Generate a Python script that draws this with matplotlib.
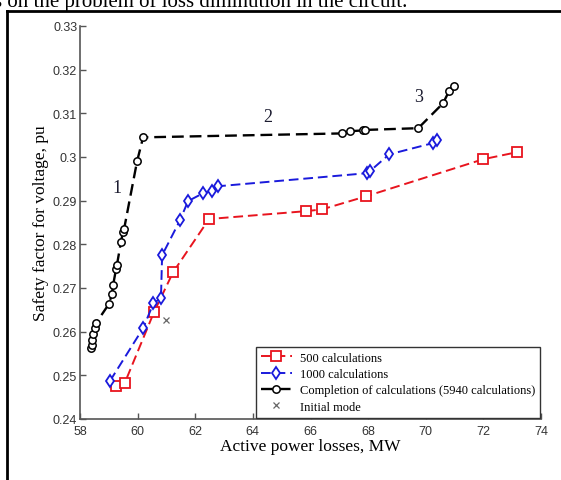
import matplotlib.pyplot as plt
from matplotlib.lines import Line2D
from matplotlib.ticker import FuncFormatter

# 500 calculations
red_x = [59.25, 59.55, 60.57, 61.23, 62.48, 65.85, 66.40, 67.93, 72.00, 73.17]
red_y = [0.2476, 0.2482, 0.2645, 0.2736, 0.2858, 0.2876, 0.2880, 0.2910, 0.2995, 0.3011]

# 1000 calculations
blue_x = [59.04, 60.19, 60.55, 60.81, 60.85, 61.47, 61.75, 62.27, 62.58, 62.79,
          67.97, 68.07, 68.73, 70.26, 70.40]
blue_y = [0.2487, 0.2608, 0.2665, 0.2677, 0.2775, 0.2855, 0.2899, 0.2917, 0.2922, 0.2933,
          0.2963, 0.2968, 0.3006, 0.3032, 0.3038]

# completion of calculations (5940)
black_x = [58.38, 58.40, 58.42, 58.45, 58.52, 58.56, 59.00, 59.11, 59.15, 59.25,
           59.28, 59.42, 59.49, 59.53, 59.98, 60.19, 67.10, 67.38, 67.83, 67.90,
           69.74, 70.60, 70.81, 70.99]
black_y = [0.2562, 0.2570, 0.2580, 0.2595, 0.2608, 0.2620, 0.2663, 0.2686, 0.2707, 0.2743,
           0.2752, 0.2805, 0.2828, 0.2835, 0.2990, 0.3045, 0.3054, 0.3059, 0.3061, 0.3062,
           0.3066, 0.3123, 0.3151, 0.3162]

initial_x = [60.98]
initial_y = [0.2627]

stage_labels = ['1', '2', '3']
stage_x = [59.3, 64.53, 69.77]
stage_y = [0.2931, 0.3093, 0.3139]

serif = ['Liberation Serif', 'DejaVu Serif']
narrow = ['Liberation Sans Narrow', 'Liberation Sans', 'DejaVu Sans']

fig = plt.figure(figsize=(5.61, 4.81), dpi=100)
ax = fig.add_axes([80 / 561, 61 / 481, 461 / 561, 393 / 481])

dash = (5, 2.5)
ax.plot(red_x, red_y, color='#e8141e', ls='--', dashes=dash, lw=1.4,
        marker='s', ms=6.5, mfc='white', mec='#e8141e', mew=1.3, label='500 calculations')
ax.plot(blue_x, blue_y, color='#1a1adc', ls='--', dashes=dash, lw=1.4,
        marker='d', ms=6.5, mfc='white', mec='#1a1adc', mew=1.3, label='1000 calculations')
ax.plot(black_x, black_y, color='black', ls='--', dashes=dash, lw=1.7,
        marker='o', ms=5.3, mfc='white', mec='black', mew=1.1,
        label='Completion of calculations (5940 calculations)')
ax.plot(initial_x, initial_y, ls='none', marker='x', ms=4, color='#666666', mew=0.9,
        label='Initial mode')

for t, x, y in zip(stage_labels, stage_x, stage_y):
    ax.text(x, y, t, family=serif, fontsize=13, color='#1c1c30', ha='center', va='center')

ax.set_xlim(58, 74)
ax.set_ylim(0.24, 0.33)
ax.set_xticks(range(58, 75, 2))
ax.set_yticks([0.24, 0.25, 0.26, 0.27, 0.28, 0.29, 0.30, 0.31, 0.32, 0.33])
ax.yaxis.set_major_formatter(FuncFormatter(lambda v, p: '%g' % round(v, 2)))

for s in ['top', 'right']:
    ax.spines[s].set_visible(False)
for s in ['left', 'bottom']:
    ax.spines[s].set_color('#555555')
    ax.spines[s].set_linewidth(1.2)
ax.tick_params(direction='in', length=4, width=1, color='#555555',
               labelsize=9, labelcolor='#333333', pad=2)
ax.tick_params(axis='x', pad=4)
for lab in ax.get_xticklabels() + ax.get_yticklabels():
    lab.set_family(narrow)

ax.set_xlabel('Active power losses, MW', family=serif, fontsize=12.5, labelpad=1)
ax.set_ylabel('Safety factor for voltage, pu', family=serif, fontsize=12.5, labelpad=3)

leg = ax.legend(loc='lower right', bbox_to_anchor=(1.0, 0.0), prop={'family': serif, 'size': 9},
                frameon=True, fancybox=False, edgecolor='#333333', framealpha=1,
                handlelength=2.5, handletextpad=0.6, borderpad=0.4, labelspacing=0.35,
                borderaxespad=0.1)
leg.get_frame().set_linewidth(1.0)

# page frame and clipped caption from the surrounding document
fig.add_artist(Line2D([7 / 561, 7 / 561], [0, 1 - 12 / 481], transform=fig.transFigure,
                      color='black', lw=2))
fig.add_artist(Line2D([7 / 561, 1], [1 - 12 / 481, 1 - 12 / 481], transform=fig.transFigure,
                      color='black', lw=2))
fig.text(-6 / 561, 1 - 7 / 481, 's on the problem of loss diminution in the circuit.',
         family=serif, fontsize=15, va='baseline', ha='left')

fig.savefig('out.png', dpi=100)
